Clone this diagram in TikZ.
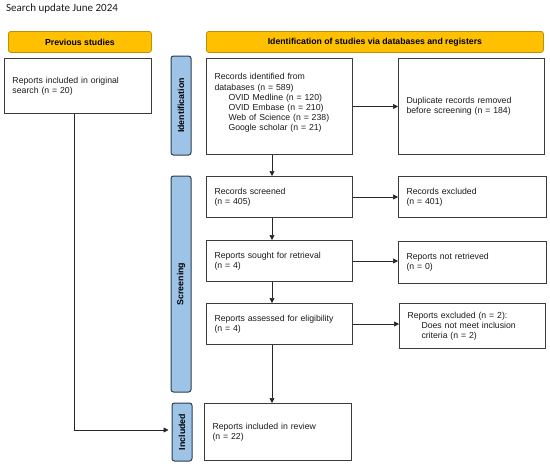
\documentclass[tikz,border=0pt]{standalone}
\usepackage{fontspec}
\setmainfont{Liberation Sans}
\newfontfamily\titlefont{Carlito}
\usetikzlibrary{arrows.meta,calc}
\definecolor{boxc}{HTML}{3C3C3C}
\definecolor{linec}{HTML}{262626}
\definecolor{hdr}{HTML}{FFC000}
\definecolor{hdrb}{HTML}{B8900A}
\definecolor{barfill}{HTML}{9DC3E6}
\definecolor{barb}{HTML}{2E3B4E}
\definecolor{txt}{HTML}{1A1A1A}
\tikzset{
  box/.style={draw=boxc, line width=1pt, anchor=north west, inner xsep=8pt, inner ysep=0pt,
    align=left, text=txt, font=\fontsize{8.7}{10.2}\selectfont},
  header/.style={draw=hdrb, fill=hdr, rounded corners=2.5pt, line width=0.8pt, anchor=north west,
    inner sep=0pt, text=black, font=\bfseries\fontsize{8.7}{10}\selectfont},
  sidebar/.style={draw=barb, fill=barfill, rounded corners=2.5pt, line width=1pt, inner sep=0pt,
    rotate=90, minimum height=20pt, text=black, font=\bfseries\fontsize{8.8}{9}\selectfont},
  arr/.style={draw=linec, line width=0.7pt, -{Triangle[length=5pt,width=5pt]}},
  plain/.style={draw=linec, line width=0.7pt}
}
\begin{document}
\begin{tikzpicture}[x=1pt,y=-1pt]
\path[use as bounding box] (0,0) rectangle (550,464);

\node[anchor=base west, inner sep=0pt, text=txt, font=\titlefont\fontsize{11}{13}\selectfont] (title) at (6,11.5) {Search update June 2024};

% headers
\node[header, minimum width=143pt, minimum height=21pt] (prevh) at (8,31) {Previous studies};
\node[header, minimum width=337pt, minimum height=21pt] (idh) at (206,31) {Identification of studies via databases and registers};

% side bars
\node[sidebar, minimum width=99pt] (idbar) at (181,105.5) {Identification};
\node[sidebar, minimum width=216pt] (scrbar) at (181,284) {Screening};
\node[sidebar, minimum width=58pt] (incbar) at (182,432) {Included};

% boxes
\node[box, text width=131pt, minimum height=55pt] (prev) at (4,58) {Reports included in original\\search (n = 20)};
\node[box, text width=130pt, minimum height=96pt, text depth=59.5pt] (ident) at (206,58)
  {Records identified from\\databases (n = 589)\\\hspace*{14pt}OVID Medline (n = 120)\\\hspace*{14pt}OVID Embase (n = 210)\\\hspace*{14pt}Web of Science (n = 238)\\\hspace*{14pt}Google scholar (n = 21)};
\node[box, text width=130pt, minimum height=96pt] (dup) at (398,58) {Duplicate records removed\\before screening (n = 184)};
\node[box, text width=130pt, minimum height=41pt] (screened) at (206,176) {Records screened\\(n = 405)};
\node[box, text width=132pt, minimum height=41pt] (excl) at (398,176) {Records excluded\\(n = 401)};
\node[box, text width=130pt, minimum height=41pt] (sought) at (206,240) {Reports sought for retrieval\\(n = 4)};
\node[box, text width=132pt, minimum height=42pt] (notret) at (398,241) {Reports not retrieved\\(n = 0)};
\node[box, text width=130pt, minimum height=41pt] (assessed) at (206,303) {Reports assessed for eligibility\\(n = 4)};
\node[box, text width=130pt, minimum height=45pt] (excl2) at (399,303)
  {Reports excluded (n = 2):\\\hspace*{14pt}Does not meet inclusion\\\hspace*{14pt}criteria (n = 2)};
\node[box, text width=131pt, minimum height=57pt] (review) at (204,403) {Reports included in review\\(n = 22)};

% connectors
\coordinate (vx) at (272,0);
\coordinate (lx) at (74,0);
\draw[arr] (ident.south -| vx) -- (screened.north -| vx);
\draw[arr] (screened.south -| vx) -- (sought.north -| vx);
\draw[arr] (sought.south -| vx) -- (assessed.north -| vx);
\draw[arr] (assessed.south -| vx) -- (review.north -| vx);
\draw[arr] (ident.east) -- (ident.east -| dup.west);
\draw[arr] (screened.east) -- (screened.east -| excl.west);
\draw[arr] (sought.east) -- (sought.east -| notret.west);
\draw[arr] (assessed.east) -- (assessed.east -| excl2.west);
\draw[arr] (prev.south -| lx) |- ($(incbar.north)+(-3,-2)$);
\end{tikzpicture}
\end{document}
